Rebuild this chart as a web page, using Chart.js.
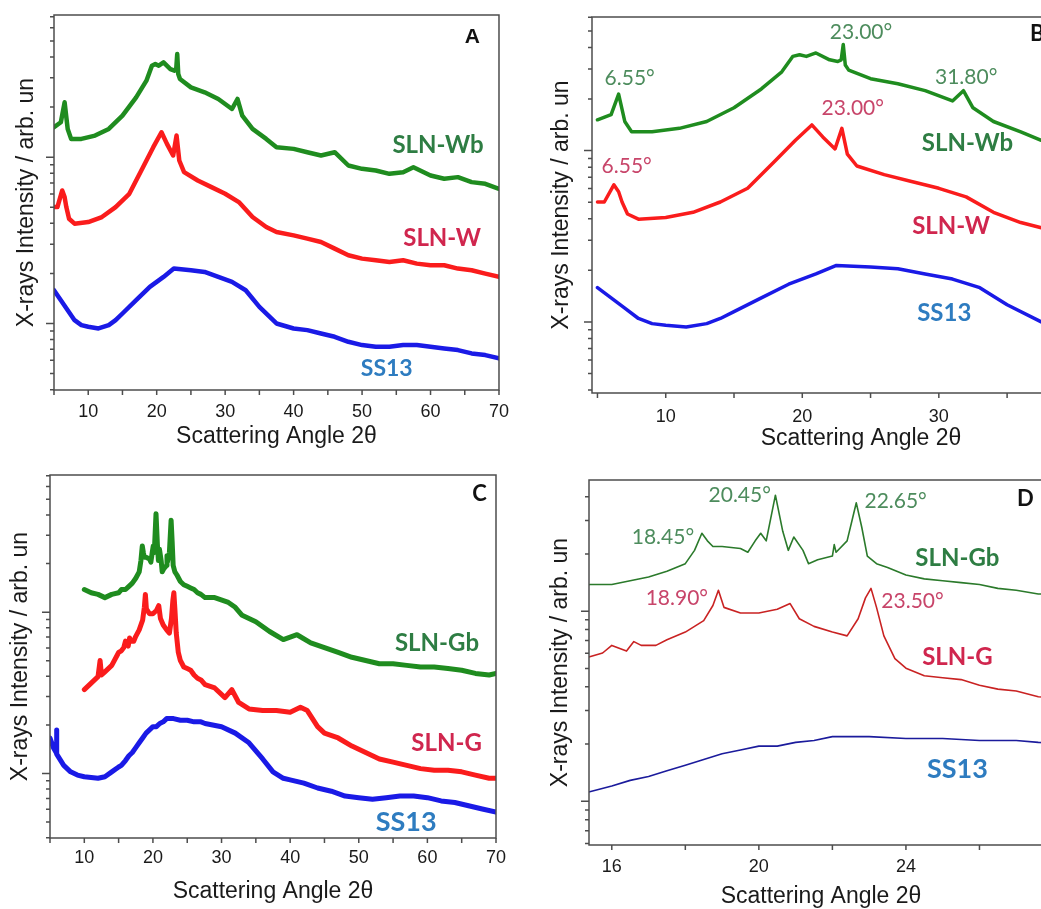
<!DOCTYPE html>
<html>
<head>
<meta charset="utf-8">
<script src="https://cdn.jsdelivr.net/npm/chart.js@4.4.1/dist/chart.umd.min.js"></script>
<style>
  html, body { margin: 0; padding: 0; background: #fff; overflow: hidden; width: 1041px; height: 909px; }
  canvas { position: absolute; }
</style>
</head>
<body>
<canvas id="chartA" width="520" height="450" style="left:0;top:0"></canvas>
<canvas id="chartB" width="628" height="450" style="left:520px;top:0"></canvas>
<canvas id="chartC" width="520" height="459" style="left:0;top:450px"></canvas>
<canvas id="chartD" width="560" height="459" style="left:520px;top:450px"></canvas>
<script>
// intensities are kept as log10 values (arb. units), one x list per pattern

// --- SS13 / SLN-W / SLN-Wb (panels A and B)
const wbAngle = [5, 6, 6.55, 7, 7.5, 9, 11, 13, 15, 17, 18.5, 19.3, 19.8, 20.3, 21, 22, 22.6, 22.85, 23.0, 23.15, 23.4, 25, 27, 29, 31, 31.8, 32.5, 34, 36, 37.5, 40, 42, 44, 46, 48, 50, 52, 54, 56, 57.5, 60, 62, 64, 66, 68, 70]
const wbLog = [1.18, 1.21, 1.33, 1.17, 1.11, 1.11, 1.13, 1.17, 1.25, 1.36, 1.46, 1.55, 1.56, 1.55, 1.57, 1.53, 1.52, 1.53, 1.62, 1.50, 1.47, 1.42, 1.39, 1.35, 1.29, 1.35, 1.25, 1.17, 1.11, 1.06, 1.05, 1.03, 1.01, 1.03, 0.95, 0.93, 0.92, 0.90, 0.91, 0.94, 0.89, 0.87, 0.88, 0.85, 0.84, 0.81]

const wAngle = [5, 5.5, 6.2, 6.55, 6.8, 7.2, 8, 10, 12, 14, 16, 18, 19.5, 20.7, 21.5, 22.4, 22.9, 23.3, 24, 26, 28, 30, 32, 34, 36, 37.5, 40, 42, 44, 46, 48, 50, 52, 54, 56, 58, 60, 62, 64, 66, 68, 70]
const wLog = [0.70, 0.70, 0.80, 0.76, 0.70, 0.63, 0.60, 0.61, 0.64, 0.70, 0.78, 0.94, 1.06, 1.15, 1.08, 1.01, 1.13, 0.98, 0.91, 0.86, 0.82, 0.78, 0.73, 0.64, 0.58, 0.55, 0.53, 0.51, 0.49, 0.45, 0.41, 0.39, 0.38, 0.37, 0.38, 0.36, 0.35, 0.35, 0.33, 0.32, 0.30, 0.28]

const ssWAngle = [5, 6, 7, 8, 9, 10, 11.5, 13, 14, 15, 17, 19, 21, 22.5, 25, 27, 29, 31, 33, 35, 37.5, 40, 42, 44, 46, 48, 50, 52, 54, 56, 58, 60, 62, 64, 66, 68, 70]
const ssWLog = [0.20, 0.14, 0.08, 0.02, -0.01, -0.02, -0.03, -0.01, 0.02, 0.06, 0.14, 0.22, 0.28, 0.33, 0.32, 0.31, 0.28, 0.25, 0.20, 0.10, 0.00, -0.03, -0.04, -0.06, -0.08, -0.11, -0.13, -0.14, -0.14, -0.13, -0.13, -0.14, -0.15, -0.16, -0.18, -0.19, -0.21]

// --- SS13 / SLN-G / SLN-Gb (panels C and D)
const gbAngle = [10, 11, 12, 13, 14, 15, 15.4, 16, 16.5, 17, 17.5, 18, 18.25, 18.45, 18.6, 18.75, 19, 19.5, 19.7, 19.9, 20.05, 20.2, 20.45, 20.65, 20.8, 20.95, 21.2, 21.35, 21.6, 22, 22.05, 22.1, 22.4, 22.55, 22.65, 22.8, 22.95, 23.2, 23.5, 24, 24.5, 25, 25.5, 26, 26.5, 27, 27.6, 29, 31, 32, 33, 35, 37, 39, 41, 43, 45, 47, 49, 51, 53, 55, 57, 59, 61, 63, 65, 67, 69, 70]
const gbLog = [1.14, 1.12, 1.11, 1.09, 1.11, 1.12, 1.14, 1.14, 1.16, 1.18, 1.21, 1.25, 1.32, 1.41, 1.37, 1.34, 1.34, 1.33, 1.31, 1.37, 1.41, 1.37, 1.61, 1.42, 1.32, 1.39, 1.32, 1.25, 1.27, 1.29, 1.35, 1.31, 1.37, 1.49, 1.57, 1.44, 1.29, 1.25, 1.23, 1.19, 1.17, 1.16, 1.15, 1.14, 1.12, 1.11, 1.09, 1.09, 1.06, 1.03, 0.98, 0.94, 0.88, 0.83, 0.86, 0.81, 0.78, 0.75, 0.72, 0.70, 0.68, 0.68, 0.67, 0.66, 0.66, 0.65, 0.64, 0.62, 0.61, 0.62]

const gAngle = [10, 11, 12, 12.3, 12.5, 13, 14, 15, 15.4, 15.75, 16, 16.4, 16.6, 16.8, 17.2, 17.5, 18, 18.5, 18.75, 18.9, 19.05, 19.5, 20, 20.5, 20.85, 21.1, 21.5, 22, 22.4, 22.7, 22.9, 23.05, 23.2, 23.4, 23.7, 24, 24.5, 25, 25.5, 26, 26.5, 27, 27.6, 29, 30.5, 31.5, 32.5, 34, 36, 38, 40, 41.5, 42.5, 44, 45, 47, 49, 51, 53, 55, 57, 59, 61, 63, 65, 67, 69, 70]
const gLog = [0.52, 0.56, 0.60, 0.70, 0.61, 0.63, 0.67, 0.75, 0.76, 0.78, 0.82, 0.79, 0.84, 0.82, 0.82, 0.85, 0.89, 0.95, 1.03, 1.11, 1.02, 0.99, 0.99, 1.01, 1.04, 0.96, 0.92, 0.89, 0.87, 0.96, 1.07, 1.12, 1.02, 0.87, 0.75, 0.70, 0.66, 0.65, 0.64, 0.61, 0.59, 0.58, 0.55, 0.53, 0.47, 0.52, 0.44, 0.40, 0.39, 0.39, 0.38, 0.41, 0.39, 0.29, 0.25, 0.22, 0.17, 0.13, 0.09, 0.07, 0.05, 0.03, 0.02, 0.02, 0.01, -0.01, -0.03, -0.03]

const ssGAngle = [5, 5.5, 5.9, 5.95, 6.0, 7, 8, 9, 10, 12, 13, 14, 15, 15.4, 16, 16.5, 17, 17.5, 18, 18.5, 19, 19.5, 20, 20.5, 21, 21.5, 22, 22.5, 23, 24, 25, 26, 27, 27.6, 30, 32, 34, 36, 37.5, 39, 40, 42, 44, 46, 48, 50, 52, 54, 56, 58, 60, 62, 64, 66, 68, 70]
const ssGLog = [0.22, 0.16, 0.13, 0.27, 0.12, 0.05, 0.01, -0.01, -0.02, -0.03, -0.02, 0.01, 0.04, 0.05, 0.08, 0.11, 0.13, 0.16, 0.19, 0.22, 0.25, 0.27, 0.29, 0.29, 0.31, 0.32, 0.34, 0.34, 0.34, 0.33, 0.33, 0.32, 0.32, 0.31, 0.29, 0.25, 0.19, 0.09, 0.01, -0.03, -0.04, -0.06, -0.09, -0.11, -0.14, -0.15, -0.16, -0.15, -0.14, -0.14, -0.15, -0.17, -0.18, -0.20, -0.22, -0.24]

const GREEN = '#1f8c1f', RED = '#fa1c1c', BLUE = '#1a1ae6'
const GREEN_D = '#2b7a2b', RED_D = '#c92222', BLUE_D = '#1b1b9c'
const LBL_GREEN = '#2e7d43', LBL_RED = '#d0264e', LBL_BLUE = '#2e7cc0'
const NOTE_GREEN = '#4d8c5d', NOTE_RED = '#c8456a'
const AXIS_FONT = '"Liberation Sans", Arial, sans-serif'

const toPts = (xs, logs) => xs.map((x, i) => ({ x, y: Math.pow(10, logs[i]) }))

function series(xs, logs, color, width) {
  return {
    data: toPts(xs, logs),
    borderColor: color,
    borderWidth: width,
    pointRadius: 0,
    tension: 0,
    borderJoinStyle: 'round',
    borderCapStyle: 'round'
  }
}

// box around the plot and outward ticks (longer at the decades)
const frameTicks = {
  id: 'frameTicks',
  afterDatasetsDraw(chart) {
    const { ctx, chartArea: a, scales: { x, y } } = chart
    ctx.save()
    ctx.strokeStyle = '#4d4d4d'
    ctx.lineWidth = 1.5
    ctx.strokeRect(a.left, a.top, a.right - a.left, a.bottom - a.top)
    ctx.beginPath()
    x.ticks.forEach(t => {
      const px = x.getPixelForValue(t.value)
      ctx.moveTo(px, a.bottom)
      ctx.lineTo(px, a.bottom + 5)
    })
    for (let e = -2; e <= 3; e++) {
      for (let d = 1; d < 10; d++) {
        const val = d * Math.pow(10, e)
        if (val <= y.min || val >= y.max) continue
        const py = y.getPixelForValue(val)
        ctx.moveTo(a.left, py)
        ctx.lineTo(a.left - (d === 1 ? 8 : 4), py)
      }
    }
    ctx.stroke()
    ctx.restore()
  }
}

// sample names, peak positions and panel letters, placed in data coordinates
const notes = {
  id: 'notes',
  afterDatasetsDraw(chart, args, opts) {
    const { ctx, scales: { x, y } } = chart
    ctx.save()
    ctx.textAlign = 'center'
    ctx.textBaseline = 'middle'
    opts.items.forEach(n => {
      ctx.font = n.font
      ctx.fillStyle = n.color
      ctx.fillText(n.text, x.getPixelForValue(n.x), y.getPixelForValue(Math.pow(10, n.v)))
    })
    ctx.restore()
  }
}

function makeChart(id, c) {
  return new Chart(document.getElementById(id), {
    type: 'line',
    data: { datasets: c.datasets },
    options: {
      responsive: false,
      animation: false,
      layout: { padding: { top: c.padTop, right: c.padRight, bottom: 0, left: 0 } },
      plugins: {
        legend: { display: false },
        tooltip: { enabled: false },
        notes: { items: c.notes }
      },
      scales: {
        x: {
          type: 'linear',
          min: c.xMin,
          max: c.xMax,
          afterFit: s => { s.height = c.xHeight },
          grid: { display: false, drawTicks: false },
          border: { display: false },
          ticks: {
            stepSize: c.step,
            includeBounds: false,
            autoSkip: false,
            maxRotation: 0,
            padding: c.tickPad,
            color: '#1a1a1a',
            font: { family: AXIS_FONT, size: 18 },
            callback: v => (v % c.labelEvery === 0 ? v : '')
          },
          title: {
            display: true,
            text: 'Scattering Angle 2θ',
            color: '#1a1a1a',
            font: { family: AXIS_FONT, size: 23, lineHeight: 1 },
            padding: { top: 0, bottom: c.xTitlePad }
          }
        },
        y: {
          type: 'logarithmic',
          min: Math.pow(10, c.logMin),
          max: Math.pow(10, c.logMax),
          afterFit: s => { s.width = c.yWidth },
          grid: { display: false, drawTicks: false },
          border: { display: false },
          ticks: { display: false },
          title: {
            display: true,
            text: 'X-rays Intensity / arb. un',
            color: '#1a1a1a',
            font: { family: AXIS_FONT, size: 23, lineHeight: 1 },
            padding: { top: c.yTitlePad, bottom: 0 }
          }
        }
      }
    },
    plugins: [frameTicks, notes]
  })
}

const nameFont = size => `bold ${size}px Lato, sans-serif`
const peakFont = '21px Lato, sans-serif'

makeChart('chartA', {
  datasets: [
    series(wbAngle, wbLog, GREEN, 4.5),
    series(wAngle, wLog, RED, 4.5),
    series(ssWAngle, ssWLog, BLUE, 4.5)
  ],
  xMin: 5, xMax: 70, step: 5, labelEvery: 10,
  logMin: -0.40, logMax: 1.855,
  padTop: 15, padRight: 14, yWidth: 54, xHeight: 60,
  tickPad: 11, xTitlePad: 1.5, yTitlePad: 15.5,
  notes: [
    { text: 'SLN-Wb', x: 61.1, v: 1.07, color: LBL_GREEN, font: nameFont(24) },
    { text: 'SLN-W', x: 61.7, v: 0.51, color: LBL_RED, font: nameFont(24) },
    { text: 'SS13', x: 53.6, v: -0.27, color: LBL_BLUE, font: nameFont(23) },
    { text: 'A', x: 66.1, v: 1.72, color: '#111', font: 'bold 21px "Liberation Sans", Arial' }
  ]
})

makeChart('chartB', {
  datasets: [
    series(wbAngle, wbLog, GREEN, 3.5),
    series(wAngle, wLog, RED, 3.5),
    series(ssWAngle, ssWLog, BLUE, 3.5)
  ],
  xMin: 4.6, xMax: 44, step: 5, labelEvery: 10,
  logMin: -0.415, logMax: 1.78,
  padTop: 17, padRight: 18, yWidth: 72, xHeight: 57,
  tickPad: 13, xTitlePad: 0, yTitlePad: 30.5,
  notes: [
    { text: 'SLN-Wb', x: 32.1, v: 1.04, color: LBL_GREEN, font: nameFont(24) },
    { text: 'SLN-W', x: 30.9, v: 0.56, color: LBL_RED, font: nameFont(24) },
    { text: 'SS13', x: 30.4, v: 0.05, color: LBL_BLUE, font: nameFont(24) },
    { text: '6.55°', x: 7.36, v: 1.42, color: NOTE_GREEN, font: peakFont },
    { text: '23.00°', x: 24.3, v: 1.69, color: NOTE_GREEN, font: peakFont },
    { text: '31.80°', x: 32.0, v: 1.43, color: NOTE_GREEN, font: peakFont },
    { text: '23.00°', x: 23.7, v: 1.25, color: NOTE_RED, font: peakFont },
    { text: '6.55°', x: 7.14, v: 0.91, color: NOTE_RED, font: peakFont },
    { text: 'B', x: 37.2, v: 1.68, color: '#111', font: nameFont(22) }
  ]
})

makeChart('chartC', {
  datasets: [
    series(gbAngle, gbLog, GREEN, 5),
    series(gAngle, gLog, RED, 5),
    series(ssGAngle, ssGLog, BLUE, 5)
  ],
  xMin: 5, xMax: 70, step: 5, labelEvery: 10,
  logMin: -0.40, logMax: 1.85,
  padTop: 25, padRight: 24, yWidth: 50, xHeight: 71,
  tickPad: 9, xTitlePad: 5.5, yTitlePad: 9.5,
  notes: [
    { text: 'SLN-Gb', x: 61.4, v: 0.81, color: LBL_GREEN, font: nameFont(24) },
    { text: 'SLN-G', x: 62.8, v: 0.19, color: LBL_RED, font: nameFont(24) },
    { text: 'SS13', x: 56.9, v: -0.30, color: LBL_BLUE, font: nameFont(27) },
    { text: 'C', x: 67.6, v: 1.73, color: '#111', font: nameFont(22) }
  ]
})

makeChart('chartD', {
  datasets: [
    series(gbAngle, gbLog, GREEN_D, 1.6),
    series(gAngle, gLog, RED_D, 1.6),
    series(ssGAngle, ssGLog, BLUE_D, 1.6)
  ],
  xMin: 15.38, xMax: 28, step: 2, labelEvery: 4,
  logMin: -0.23, logMax: 1.69,
  padTop: 30, padRight: 27, yWidth: 69, xHeight: 64,
  tickPad: 11, xTitlePad: 0.5, yTitlePad: 29.5,
  notes: [
    { text: 'SLN-Gb', x: 25.4, v: 1.28, color: LBL_GREEN, font: nameFont(24) },
    { text: 'SLN-G', x: 25.4, v: 0.76, color: LBL_RED, font: nameFont(24) },
    { text: 'SS13', x: 25.4, v: 0.17, color: LBL_BLUE, font: nameFont(27) },
    { text: '18.45°', x: 17.39, v: 1.39, color: NOTE_GREEN, font: peakFont },
    { text: '20.45°', x: 19.48, v: 1.61, color: NOTE_GREEN, font: peakFont },
    { text: '22.65°', x: 23.72, v: 1.58, color: NOTE_GREEN, font: peakFont },
    { text: '18.90°', x: 17.77, v: 1.07, color: NOTE_RED, font: peakFont },
    { text: '23.50°', x: 24.18, v: 1.05, color: NOTE_RED, font: peakFont },
    { text: 'D', x: 27.25, v: 1.59, color: '#111', font: nameFont(22) }
  ]
})
</script>
</body>
</html>
